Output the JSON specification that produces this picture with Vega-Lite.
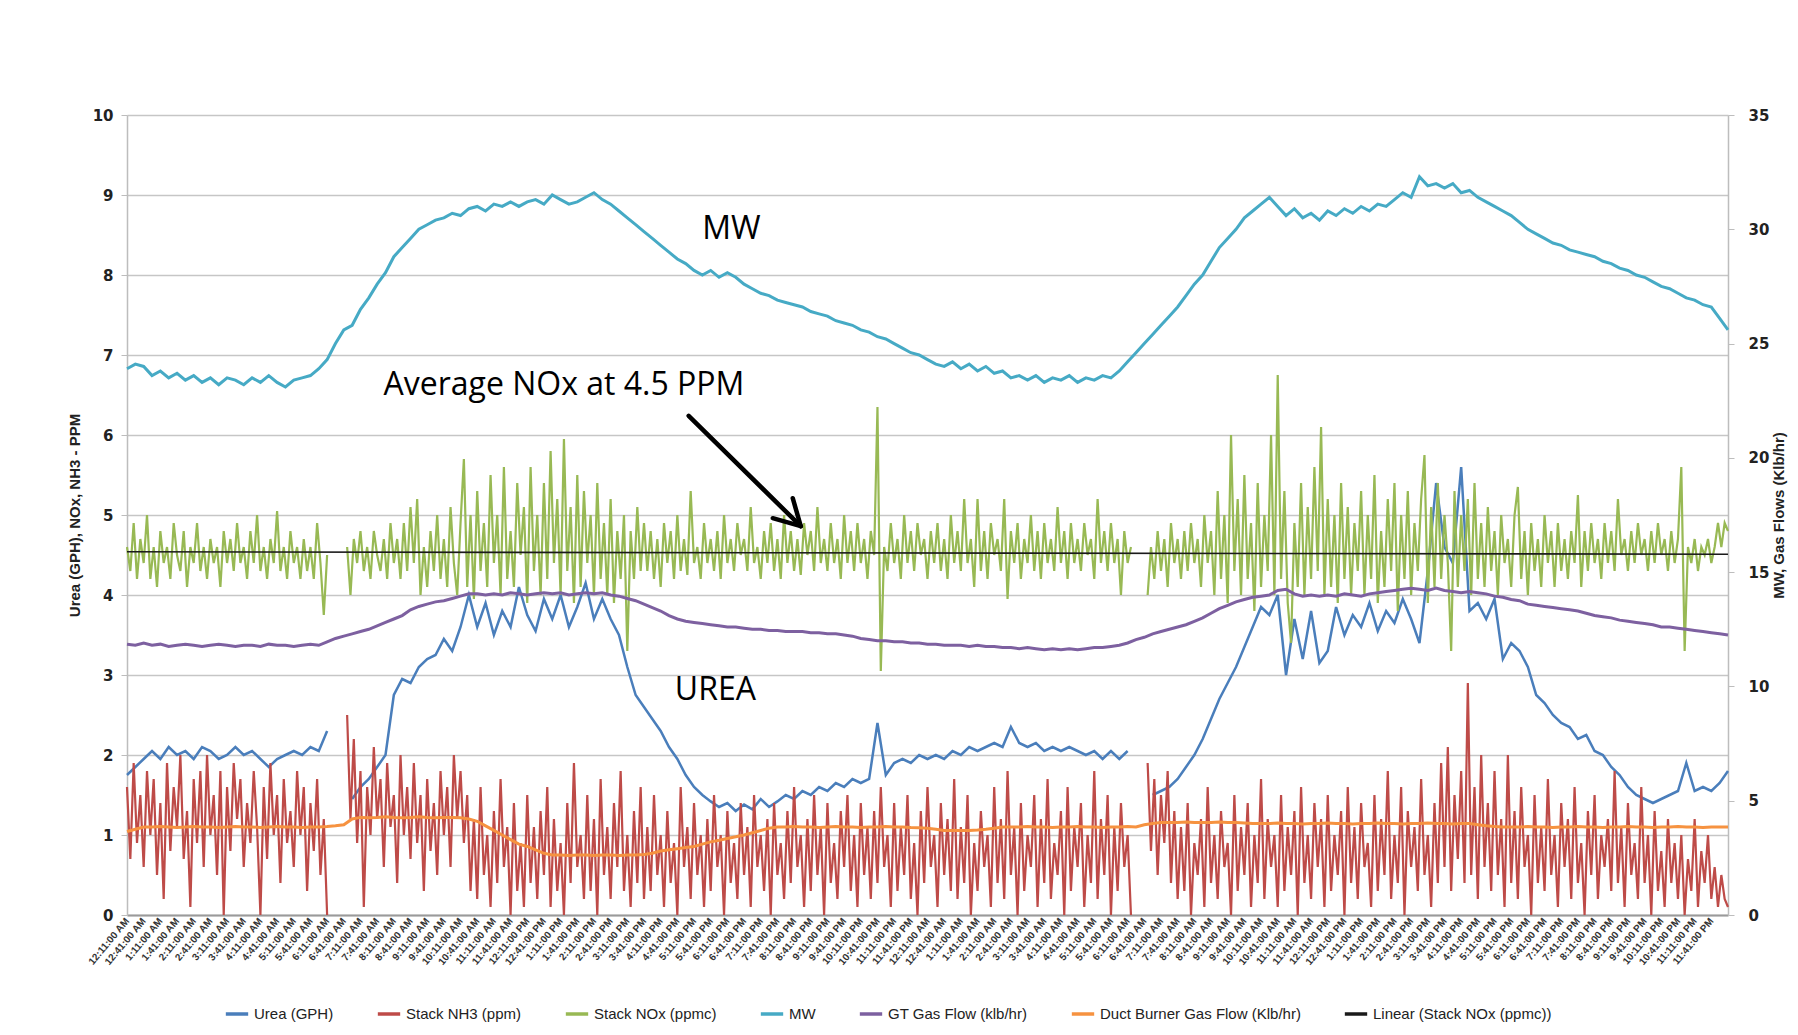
{
"$schema": "https://vega.github.io/schema/vega-lite/v6.json",
"width": 1601,
"height": 800,
"autosize": {"type": "none"},
"padding": {"left": 127, "top": 115, "right": 70, "bottom": 120},
"background": "white",
"config": {
  "view": {"stroke": null},
  "font": "Liberation Sans",
  "axisLeft": {"grid": true, "gridColor": "#c6c6c6", "gridWidth": 1.6, "domainColor": "#bdbdbd", "domainWidth": 1.5, "tickColor": "#bdbdbd", "tickSize": 6, "labelFont": "DejaVu Sans", "labelFontSize": 15, "labelFontWeight": "bold", "labelColor": "#222", "labelPadding": 8, "titleFont": "Liberation Sans", "titleFontSize": 15, "titleFontWeight": "bold", "titleColor": "#222", "titlePadding": 10},
  "axisRight": {"grid": false, "domainColor": "#bdbdbd", "domainWidth": 1.5, "tickColor": "#bdbdbd", "tickSize": 6, "labelFont": "DejaVu Sans", "labelFontSize": 15, "labelFontWeight": "bold", "labelColor": "#222", "labelPadding": 14, "titleFont": "Liberation Sans", "titleFontSize": 15, "titleFontWeight": "bold", "titleColor": "#222", "titlePadding": 18, "titleAngle": 270},
  "legend": {"orient": "none", "legendX": 97, "legendY": 886, "direction": "horizontal", "symbolType": "stroke", "symbolStrokeWidth": 3.5, "symbolSize": 500, "labelFont": "Liberation Sans", "labelFontSize": 15, "labelColor": "#222", "columnPadding": 36, "labelLimit": 400}
},
"datasets": {
"s": [
{"x":0,"u":1.75,"m":23.9,"g":11.85,"d":3.65},
{"x":0.25,"u":1.85,"m":24.1,"g":11.8,"d":3.75},
{"x":0.5,"u":1.95,"m":24.0,"g":11.9,"d":3.85},
{"x":0.75,"u":2.05,"m":23.6,"g":11.8,"d":3.85},
{"x":1,"u":1.95,"m":23.8,"g":11.85,"d":3.87},
{"x":1.25,"u":2.1,"m":23.5,"g":11.75,"d":3.85},
{"x":1.5,"u":2.0,"m":23.7,"g":11.8,"d":3.83},
{"x":1.75,"u":2.05,"m":23.4,"g":11.85,"d":3.85},
{"x":2,"u":1.95,"m":23.6,"g":11.8,"d":3.87},
{"x":2.25,"u":2.1,"m":23.3,"g":11.75,"d":3.85},
{"x":2.5,"u":2.05,"m":23.5,"g":11.8,"d":3.85},
{"x":2.75,"u":1.95,"m":23.2,"g":11.85,"d":3.83},
{"x":3,"u":2.0,"m":23.5,"g":11.8,"d":3.85},
{"x":3.25,"u":2.1,"m":23.4,"g":11.75,"d":3.87},
{"x":3.5,"u":2.0,"m":23.2,"g":11.8,"d":3.85},
{"x":3.75,"u":2.05,"m":23.5,"g":11.8,"d":3.85},
{"x":4,"u":1.95,"m":23.3,"g":11.75,"d":3.83},
{"x":4.25,"u":1.85,"m":23.6,"g":11.85,"d":3.85},
{"x":4.5,"u":1.95,"m":23.3,"g":11.8,"d":3.87},
{"x":4.75,"u":2.0,"m":23.1,"g":11.8,"d":3.85},
{"x":5,"u":2.05,"m":23.4,"g":11.75,"d":3.85},
{"x":5.25,"u":2.0,"m":23.5,"g":11.8,"d":3.83},
{"x":5.5,"u":2.1,"m":23.6,"g":11.85,"d":3.85},
{"x":5.75,"u":2.05,"m":23.9,"g":11.8,"d":3.85},
{"x":6,"u":2.3,"m":24.3,"g":11.95,"d":3.87},
{"x":6.25,"u":null,"m":25.0,"g":12.1,"d":3.9},
{"x":6.5,"u":null,"m":25.6,"g":12.2,"d":3.95},
{"x":6.75,"u":1.45,"m":25.8,"g":12.3,"d":4.2},
{"x":7,"u":1.6,"m":26.5,"g":12.4,"d":4.27},
{"x":7.25,"u":1.7,"m":27.0,"g":12.5,"d":4.25},
{"x":7.5,"u":1.85,"m":27.6,"g":12.65,"d":4.27},
{"x":7.75,"u":2.0,"m":28.1,"g":12.8,"d":4.3},
{"x":8,"u":2.75,"m":28.8,"g":12.95,"d":4.27},
{"x":8.25,"u":2.95,"m":29.2,"g":13.1,"d":4.25},
{"x":8.5,"u":2.9,"m":29.6,"g":13.35,"d":4.27},
{"x":8.75,"u":3.1,"m":30.0,"g":13.5,"d":4.3},
{"x":9,"u":3.2,"m":30.2,"g":13.6,"d":4.27},
{"x":9.25,"u":3.25,"m":30.4,"g":13.7,"d":4.25},
{"x":9.5,"u":3.45,"m":30.5,"g":13.75,"d":4.27},
{"x":9.75,"u":3.3,"m":30.7,"g":13.85,"d":4.27},
{"x":10,"u":3.6,"m":30.6,"g":13.95,"d":4.25},
{"x":10.25,"u":4.0,"m":30.9,"g":14.05,"d":4.2},
{"x":10.5,"u":3.6,"m":31.0,"g":14.05,"d":4.1},
{"x":10.75,"u":3.9,"m":30.8,"g":14.0,"d":3.9},
{"x":11,"u":3.5,"m":31.1,"g":14.05,"d":3.7},
{"x":11.25,"u":3.8,"m":31.0,"g":14.0,"d":3.5},
{"x":11.5,"u":3.6,"m":31.2,"g":14.1,"d":3.3},
{"x":11.75,"u":4.1,"m":31.0,"g":14.05,"d":3.1},
{"x":12,"u":3.75,"m":31.2,"g":14.0,"d":3.0},
{"x":12.25,"u":3.55,"m":31.3,"g":14.05,"d":2.85},
{"x":12.5,"u":3.95,"m":31.1,"g":14.1,"d":2.7},
{"x":12.75,"u":3.7,"m":31.5,"g":14.05,"d":2.63},
{"x":13,"u":4.0,"m":31.3,"g":14.1,"d":2.63},
{"x":13.25,"u":3.6,"m":31.1,"g":14.0,"d":2.6},
{"x":13.5,"u":3.85,"m":31.2,"g":14.05,"d":2.63},
{"x":13.75,"u":4.15,"m":31.4,"g":14.1,"d":2.63},
{"x":14,"u":3.7,"m":31.6,"g":14.05,"d":2.6},
{"x":14.25,"u":3.95,"m":31.3,"g":14.1,"d":2.63},
{"x":14.5,"u":3.7,"m":31.1,"g":14.0,"d":2.63},
{"x":14.75,"u":3.5,"m":30.8,"g":13.95,"d":2.6},
{"x":15,"u":3.1,"m":30.5,"g":13.85,"d":2.63},
{"x":15.25,"u":2.75,"m":30.2,"g":13.75,"d":2.63},
{"x":15.5,"u":2.6,"m":29.9,"g":13.6,"d":2.65},
{"x":15.75,"u":2.45,"m":29.6,"g":13.45,"d":2.7},
{"x":16,"u":2.3,"m":29.3,"g":13.3,"d":2.8},
{"x":16.25,"u":2.1,"m":29.0,"g":13.1,"d":2.85},
{"x":16.5,"u":1.95,"m":28.7,"g":12.95,"d":2.9},
{"x":16.75,"u":1.75,"m":28.5,"g":12.85,"d":2.95},
{"x":17,"u":1.6,"m":28.2,"g":12.8,"d":3.0},
{"x":17.25,"u":1.5,"m":28.0,"g":12.75,"d":3.1},
{"x":17.5,"u":1.42,"m":28.2,"g":12.7,"d":3.2},
{"x":17.75,"u":1.35,"m":27.9,"g":12.65,"d":3.27},
{"x":18,"u":1.4,"m":28.1,"g":12.6,"d":3.35},
{"x":18.25,"u":1.3,"m":27.9,"g":12.6,"d":3.42},
{"x":18.5,"u":1.38,"m":27.6,"g":12.55,"d":3.5},
{"x":18.75,"u":1.32,"m":27.4,"g":12.5,"d":3.6},
{"x":19,"u":1.45,"m":27.2,"g":12.5,"d":3.7},
{"x":19.25,"u":1.35,"m":27.1,"g":12.45,"d":3.8},
{"x":19.5,"u":1.42,"m":26.9,"g":12.45,"d":3.85},
{"x":19.75,"u":1.5,"m":26.8,"g":12.4,"d":3.85},
{"x":20,"u":1.45,"m":26.7,"g":12.4,"d":3.87},
{"x":20.25,"u":1.55,"m":26.6,"g":12.4,"d":3.85},
{"x":20.5,"u":1.5,"m":26.4,"g":12.35,"d":3.85},
{"x":20.75,"u":1.6,"m":26.3,"g":12.35,"d":3.83},
{"x":21,"u":1.55,"m":26.2,"g":12.3,"d":3.85},
{"x":21.25,"u":1.65,"m":26.0,"g":12.3,"d":3.87},
{"x":21.5,"u":1.6,"m":25.9,"g":12.25,"d":3.85},
{"x":21.75,"u":1.7,"m":25.8,"g":12.2,"d":3.85},
{"x":22,"u":1.65,"m":25.6,"g":12.1,"d":3.83},
{"x":22.25,"u":1.7,"m":25.5,"g":12.05,"d":3.85},
{"x":22.5,"u":2.4,"m":25.3,"g":12.0,"d":3.85},
{"x":22.75,"u":1.75,"m":25.2,"g":12.0,"d":3.87},
{"x":23,"u":1.9,"m":25.0,"g":11.95,"d":3.85},
{"x":23.25,"u":1.95,"m":24.8,"g":11.95,"d":3.85},
{"x":23.5,"u":1.9,"m":24.6,"g":11.9,"d":3.83},
{"x":23.75,"u":2.0,"m":24.5,"g":11.9,"d":3.82},
{"x":24,"u":1.95,"m":24.3,"g":11.85,"d":3.8},
{"x":24.25,"u":2.0,"m":24.1,"g":11.85,"d":3.75},
{"x":24.5,"u":1.95,"m":24.0,"g":11.8,"d":3.7},
{"x":24.75,"u":2.05,"m":24.2,"g":11.8,"d":3.7},
{"x":25,"u":2.0,"m":23.9,"g":11.8,"d":3.7},
{"x":25.25,"u":2.1,"m":24.1,"g":11.75,"d":3.7},
{"x":25.5,"u":2.05,"m":23.8,"g":11.8,"d":3.72},
{"x":25.75,"u":2.1,"m":24.0,"g":11.75,"d":3.75},
{"x":26,"u":2.15,"m":23.7,"g":11.75,"d":3.8},
{"x":26.25,"u":2.1,"m":23.8,"g":11.7,"d":3.85},
{"x":26.5,"u":2.35,"m":23.5,"g":11.7,"d":3.85},
{"x":26.75,"u":2.15,"m":23.6,"g":11.65,"d":3.85},
{"x":27,"u":2.1,"m":23.4,"g":11.7,"d":3.87},
{"x":27.25,"u":2.15,"m":23.6,"g":11.65,"d":3.85},
{"x":27.5,"u":2.05,"m":23.3,"g":11.6,"d":3.85},
{"x":27.75,"u":2.1,"m":23.5,"g":11.65,"d":3.83},
{"x":28,"u":2.05,"m":23.4,"g":11.6,"d":3.85},
{"x":28.25,"u":2.1,"m":23.6,"g":11.65,"d":3.85},
{"x":28.5,"u":2.05,"m":23.3,"g":11.6,"d":3.87},
{"x":28.75,"u":2.0,"m":23.5,"g":11.65,"d":3.85},
{"x":29,"u":2.05,"m":23.4,"g":11.7,"d":3.85},
{"x":29.25,"u":1.95,"m":23.6,"g":11.7,"d":3.83},
{"x":29.5,"u":2.05,"m":23.5,"g":11.75,"d":3.85},
{"x":29.75,"u":1.95,"m":23.8,"g":11.8,"d":3.85},
{"x":30,"u":2.05,"m":24.2,"g":11.9,"d":3.87},
{"x":30.25,"u":null,"m":24.6,"g":12.05,"d":3.85},
{"x":30.5,"u":null,"m":25.0,"g":12.15,"d":3.95},
{"x":30.75,"u":1.5,"m":25.4,"g":12.3,"d":4.0},
{"x":31,"u":1.55,"m":25.8,"g":12.4,"d":4.05},
{"x":31.25,"u":1.6,"m":26.2,"g":12.5,"d":4.05},
{"x":31.5,"u":1.7,"m":26.6,"g":12.6,"d":4.05},
{"x":31.75,"u":1.85,"m":27.1,"g":12.7,"d":4.07},
{"x":32,"u":2.0,"m":27.6,"g":12.85,"d":4.05},
{"x":32.25,"u":2.2,"m":28.0,"g":13.0,"d":4.05},
{"x":32.5,"u":2.45,"m":28.6,"g":13.2,"d":4.05},
{"x":32.75,"u":2.7,"m":29.2,"g":13.4,"d":4.07},
{"x":33,"u":2.9,"m":29.6,"g":13.55,"d":4.05},
{"x":33.25,"u":3.1,"m":30.0,"g":13.7,"d":4.05},
{"x":33.5,"u":3.35,"m":30.5,"g":13.8,"d":4.03},
{"x":33.75,"u":3.6,"m":30.8,"g":13.9,"d":4.0},
{"x":34,"u":3.85,"m":31.1,"g":13.95,"d":4.0},
{"x":34.25,"u":3.75,"m":31.4,"g":14.0,"d":4.0},
{"x":34.5,"u":4.0,"m":31.0,"g":14.2,"d":4.02},
{"x":34.75,"u":3.0,"m":30.6,"g":14.25,"d":4.0},
{"x":35,"u":3.7,"m":30.9,"g":14.05,"d":4.0},
{"x":35.25,"u":3.2,"m":30.5,"g":13.95,"d":3.98},
{"x":35.5,"u":3.8,"m":30.7,"g":14.0,"d":4.0},
{"x":35.75,"u":3.15,"m":30.4,"g":13.95,"d":4.0},
{"x":36,"u":3.3,"m":30.8,"g":14.0,"d":4.02},
{"x":36.25,"u":3.85,"m":30.6,"g":13.95,"d":4.0},
{"x":36.5,"u":3.5,"m":30.9,"g":14.05,"d":4.0},
{"x":36.75,"u":3.75,"m":30.7,"g":14.0,"d":3.98},
{"x":37,"u":3.6,"m":31.0,"g":13.95,"d":4.0},
{"x":37.25,"u":3.9,"m":30.8,"g":14.05,"d":4.0},
{"x":37.5,"u":3.55,"m":31.1,"g":14.1,"d":4.02},
{"x":37.75,"u":3.8,"m":31.0,"g":14.15,"d":4.0},
{"x":38,"u":3.65,"m":31.3,"g":14.2,"d":4.0},
{"x":38.25,"u":3.95,"m":31.6,"g":14.25,"d":3.98},
{"x":38.5,"u":3.7,"m":31.4,"g":14.3,"d":4.0},
{"x":38.75,"u":3.4,"m":32.3,"g":14.25,"d":4.0},
{"x":39,"u":4.3,"m":31.9,"g":14.2,"d":4.02},
{"x":39.25,"u":5.4,"m":32.0,"g":14.3,"d":4.0},
{"x":39.5,"u":4.6,"m":31.8,"g":14.2,"d":4.0},
{"x":39.75,"u":4.4,"m":32.0,"g":14.15,"d":3.98},
{"x":40,"u":5.6,"m":31.6,"g":14.1,"d":4.0},
{"x":40.25,"u":3.8,"m":31.7,"g":14.15,"d":4.0},
{"x":40.5,"u":3.9,"m":31.4,"g":14.1,"d":3.95},
{"x":40.75,"u":3.7,"m":31.2,"g":14.05,"d":3.9},
{"x":41,"u":3.95,"m":31.0,"g":13.95,"d":3.87},
{"x":41.25,"u":3.2,"m":30.8,"g":13.9,"d":3.85},
{"x":41.5,"u":3.4,"m":30.6,"g":13.8,"d":3.85},
{"x":41.75,"u":3.3,"m":30.3,"g":13.75,"d":3.85},
{"x":42,"u":3.1,"m":30.0,"g":13.6,"d":3.87},
{"x":42.25,"u":2.75,"m":29.8,"g":13.55,"d":3.85},
{"x":42.5,"u":2.65,"m":29.6,"g":13.5,"d":3.85},
{"x":42.75,"u":2.5,"m":29.4,"g":13.45,"d":3.83},
{"x":43,"u":2.4,"m":29.3,"g":13.4,"d":3.85},
{"x":43.25,"u":2.35,"m":29.1,"g":13.35,"d":3.85},
{"x":43.5,"u":2.2,"m":29.0,"g":13.3,"d":3.87},
{"x":43.75,"u":2.25,"m":28.9,"g":13.2,"d":3.85},
{"x":44,"u":2.05,"m":28.8,"g":13.1,"d":3.85},
{"x":44.25,"u":2.0,"m":28.6,"g":13.05,"d":3.83},
{"x":44.5,"u":1.85,"m":28.5,"g":13.0,"d":3.85},
{"x":44.75,"u":1.75,"m":28.3,"g":12.9,"d":3.85},
{"x":45,"u":1.6,"m":28.2,"g":12.85,"d":3.87},
{"x":45.25,"u":1.5,"m":28.0,"g":12.8,"d":3.85},
{"x":45.5,"u":1.45,"m":27.9,"g":12.75,"d":3.85},
{"x":45.75,"u":1.4,"m":27.7,"g":12.7,"d":3.83},
{"x":46,"u":1.45,"m":27.5,"g":12.6,"d":3.85},
{"x":46.25,"u":1.5,"m":27.4,"g":12.6,"d":3.85},
{"x":46.5,"u":1.55,"m":27.2,"g":12.55,"d":3.87},
{"x":46.75,"u":1.9,"m":27.0,"g":12.5,"d":3.85},
{"x":47,"u":1.55,"m":26.9,"g":12.45,"d":3.85},
{"x":47.25,"u":1.6,"m":26.7,"g":12.4,"d":3.83},
{"x":47.5,"u":1.55,"m":26.6,"g":12.35,"d":3.85},
{"x":47.75,"u":1.65,"m":26.1,"g":12.3,"d":3.85},
{"x":48,"u":1.8,"m":25.6,"g":12.25,"d":3.85}
],
"f": [
{"x":0,"n":1.6,"o":4.6},{"x":0.1,"n":0.7,"o":4.3},{"x":0.2,"n":1.9,"o":4.9},{"x":0.3,"n":0.9,"o":4.2},{"x":0.4,"n":1.5,"o":4.7},
{"x":0.5,"n":0.6,"o":4.4},{"x":0.6,"n":1.8,"o":5.0},{"x":0.7,"n":1.0,"o":4.2},{"x":0.8,"n":1.7,"o":4.6},{"x":0.9,"n":0.5,"o":4.1},
{"x":1.0,"n":1.4,"o":4.8},{"x":1.1,"n":0.2,"o":4.4},{"x":1.2,"n":1.9,"o":4.6},{"x":1.3,"n":0.8,"o":4.2},{"x":1.4,"n":1.6,"o":4.9},
{"x":1.5,"n":1.1,"o":4.5},{"x":1.6,"n":2.0,"o":4.3},{"x":1.7,"n":0.7,"o":4.8},{"x":1.8,"n":1.3,"o":4.1},{"x":1.9,"n":0.1,"o":4.6},
{"x":2.0,"n":1.7,"o":4.4},{"x":2.1,"n":0.9,"o":4.9},{"x":2.2,"n":1.8,"o":4.3},{"x":2.3,"n":0.6,"o":4.6},{"x":2.4,"n":2.0,"o":4.2},
{"x":2.5,"n":1.0,"o":4.7},{"x":2.6,"n":1.5,"o":4.4},{"x":2.7,"n":0.5,"o":4.6},{"x":2.8,"n":1.8,"o":4.1},{"x":2.9,"n":0.0,"o":4.8},
{"x":3.0,"n":1.6,"o":4.4},{"x":3.1,"n":0.8,"o":4.7},{"x":3.2,"n":1.9,"o":4.3},{"x":3.3,"n":1.2,"o":4.9},{"x":3.4,"n":1.7,"o":4.4},
{"x":3.5,"n":0.6,"o":4.6},{"x":3.6,"n":1.4,"o":4.2},{"x":3.7,"n":0.9,"o":4.8},{"x":3.8,"n":1.8,"o":4.4},{"x":3.9,"n":1.1,"o":5.0},
{"x":4.0,"n":0.0,"o":4.3},{"x":4.1,"n":1.6,"o":4.6},{"x":4.2,"n":0.7,"o":4.2},{"x":4.3,"n":1.9,"o":4.7},{"x":4.4,"n":1.0,"o":4.4},
{"x":4.5,"n":1.5,"o":5.05},{"x":4.6,"n":0.4,"o":4.3},{"x":4.7,"n":1.7,"o":4.6},{"x":4.8,"n":0.9,"o":4.2},{"x":4.9,"n":1.3,"o":4.8},
{"x":5.0,"n":0.6,"o":4.4},{"x":5.1,"n":1.8,"o":4.6},{"x":5.2,"n":1.0,"o":4.2},{"x":5.3,"n":1.6,"o":4.7},{"x":5.4,"n":0.3,"o":4.3},
{"x":5.5,"n":1.4,"o":4.6},{"x":5.6,"n":0.8,"o":4.2},{"x":5.7,"n":1.7,"o":4.9},{"x":5.8,"n":0.5,"o":4.4},{"x":5.9,"n":1.2,"o":3.75},
{"x":6.0,"n":0.0,"o":4.5},{"x":6.1,"n":null,"o":null},{"x":6.2,"n":null,"o":null},{"x":6.3,"n":null,"o":null},{"x":6.4,"n":null,"o":null},
{"x":6.5,"n":null,"o":null},{"x":6.6,"n":2.5,"o":4.6},{"x":6.7,"n":1.2,"o":4.0},{"x":6.8,"n":2.2,"o":4.7},{"x":6.9,"n":0.9,"o":4.4},
{"x":7.0,"n":1.8,"o":4.8},{"x":7.1,"n":0.1,"o":4.3},{"x":7.2,"n":1.6,"o":4.6},{"x":7.3,"n":1.0,"o":4.2},{"x":7.4,"n":2.1,"o":4.8},
{"x":7.5,"n":1.2,"o":4.5},{"x":7.6,"n":1.7,"o":4.3},{"x":7.7,"n":0.6,"o":4.7},{"x":7.8,"n":1.9,"o":4.2},{"x":7.9,"n":1.1,"o":4.9},
{"x":8.0,"n":1.5,"o":4.4},{"x":8.1,"n":0.4,"o":4.7},{"x":8.2,"n":2.0,"o":4.2},{"x":8.3,"n":1.0,"o":4.9},{"x":8.4,"n":1.6,"o":4.3},
{"x":8.5,"n":0.7,"o":5.1},{"x":8.6,"n":1.9,"o":4.4},{"x":8.7,"n":0.9,"o":5.2},{"x":8.8,"n":1.5,"o":4.0},{"x":8.9,"n":0.3,"o":4.6},
{"x":9.0,"n":1.7,"o":4.1},{"x":9.1,"n":0.8,"o":4.8},{"x":9.2,"n":1.4,"o":4.3},{"x":9.3,"n":0.5,"o":5.0},{"x":9.4,"n":1.8,"o":4.2},
{"x":9.5,"n":1.0,"o":4.7},{"x":9.6,"n":1.6,"o":4.1},{"x":9.7,"n":0.6,"o":5.1},{"x":9.8,"n":2.0,"o":4.4},{"x":9.9,"n":1.2,"o":4.0},
{"x":10.0,"n":1.8,"o":4.9},{"x":10.1,"n":0.9,"o":5.7},{"x":10.2,"n":1.5,"o":4.1},{"x":10.3,"n":0.3,"o":5.0},{"x":10.4,"n":1.2,"o":3.95},
{"x":10.5,"n":0.2,"o":5.3},{"x":10.6,"n":1.6,"o":4.3},{"x":10.7,"n":0.5,"o":4.9},{"x":10.8,"n":1.0,"o":4.1},{"x":10.9,"n":0.1,"o":5.5},
{"x":11.0,"n":1.3,"o":4.4},{"x":11.1,"n":0.4,"o":5.0},{"x":11.2,"n":1.7,"o":4.0},{"x":11.3,"n":0.6,"o":5.6},{"x":11.4,"n":1.1,"o":4.2},
{"x":11.5,"n":0.0,"o":4.8},{"x":11.6,"n":1.4,"o":4.1},{"x":11.7,"n":0.3,"o":5.4},{"x":11.8,"n":0.9,"o":4.5},{"x":11.9,"n":0.1,"o":5.1},
{"x":12.0,"n":1.5,"o":3.9},{"x":12.1,"n":0.4,"o":5.6},{"x":12.2,"n":1.1,"o":4.3},{"x":12.3,"n":0.2,"o":5.0},{"x":12.4,"n":1.3,"o":4.0},
{"x":12.5,"n":0.5,"o":5.4},{"x":12.6,"n":1.6,"o":4.2},{"x":12.7,"n":0.1,"o":5.8},{"x":12.8,"n":1.2,"o":4.4},{"x":12.9,"n":0.3,"o":5.2},
{"x":13.0,"n":0.9,"o":4.0},{"x":13.1,"n":0.0,"o":5.95},{"x":13.2,"n":1.4,"o":4.3},{"x":13.3,"n":0.4,"o":5.1},{"x":13.4,"n":1.9,"o":3.9},
{"x":13.5,"n":0.6,"o":5.5},{"x":13.6,"n":1.0,"o":4.1},{"x":13.7,"n":0.2,"o":5.3},{"x":13.8,"n":1.5,"o":4.4},{"x":13.9,"n":0.3,"o":5.0},
{"x":14.0,"n":1.2,"o":4.0},{"x":14.1,"n":0.0,"o":5.4},{"x":14.2,"n":1.7,"o":4.2},{"x":14.3,"n":0.5,"o":4.9},{"x":14.4,"n":1.1,"o":4.0},
{"x":14.5,"n":0.2,"o":5.2},{"x":14.6,"n":1.4,"o":3.9},{"x":14.7,"n":0.6,"o":4.8},{"x":14.8,"n":1.8,"o":4.2},{"x":14.9,"n":0.3,"o":5.0},
{"x":15.0,"n":1.0,"o":3.3},{"x":15.1,"n":0.1,"o":4.8},{"x":15.2,"n":1.3,"o":4.2},{"x":15.3,"n":0.4,"o":5.1},{"x":15.4,"n":1.6,"o":4.3},
{"x":15.5,"n":0.2,"o":4.9},{"x":15.6,"n":1.1,"o":4.3},{"x":15.7,"n":0.3,"o":4.8},{"x":15.8,"n":1.5,"o":4.2},{"x":15.9,"n":0.5,"o":4.7},
{"x":16.0,"n":1.0,"o":4.1},{"x":16.1,"n":0.1,"o":4.9},{"x":16.2,"n":1.3,"o":4.4},{"x":16.3,"n":0.4,"o":4.8},{"x":16.4,"n":0.9,"o":4.2},
{"x":16.5,"n":0.0,"o":5.0},{"x":16.6,"n":1.6,"o":4.3},{"x":16.7,"n":0.6,"o":4.7},{"x":16.8,"n":1.1,"o":4.25},{"x":16.9,"n":0.2,"o":5.3},
{"x":17.0,"n":1.4,"o":4.4},{"x":17.1,"n":0.5,"o":4.6},{"x":17.2,"n":1.0,"o":4.2},{"x":17.3,"n":0.1,"o":4.9},{"x":17.4,"n":1.2,"o":4.4},
{"x":17.5,"n":0.3,"o":4.7},{"x":17.6,"n":1.5,"o":4.3},{"x":17.7,"n":0.6,"o":4.8},{"x":17.8,"n":1.0,"o":4.2},{"x":17.9,"n":0.0,"o":5.0},
{"x":18.0,"n":1.3,"o":4.4},{"x":18.1,"n":0.4,"o":4.7},{"x":18.2,"n":0.9,"o":4.3},{"x":18.3,"n":0.2,"o":4.9},{"x":18.4,"n":1.4,"o":4.5},
{"x":18.5,"n":0.5,"o":4.7},{"x":18.6,"n":1.1,"o":4.3},{"x":18.7,"n":0.1,"o":5.1},{"x":18.8,"n":1.5,"o":4.4},{"x":18.9,"n":0.6,"o":4.6},
{"x":19.0,"n":1.0,"o":4.2},{"x":19.1,"n":0.3,"o":4.8},{"x":19.2,"n":1.2,"o":4.4},{"x":19.3,"n":0.0,"o":4.9},{"x":19.4,"n":1.4,"o":4.3},
{"x":19.5,"n":0.5,"o":4.7},{"x":19.6,"n":0.9,"o":4.2},{"x":19.7,"n":0.2,"o":5.0},{"x":19.8,"n":1.3,"o":4.4},{"x":19.9,"n":0.4,"o":4.8},
{"x":20.0,"n":1.6,"o":4.3},{"x":20.1,"n":0.6,"o":4.7},{"x":20.2,"n":1.0,"o":4.25},{"x":20.3,"n":0.1,"o":4.9},{"x":20.4,"n":1.2,"o":4.5},
{"x":20.5,"n":0.3,"o":4.8},{"x":20.6,"n":1.5,"o":4.3},{"x":20.7,"n":0.5,"o":5.1},{"x":20.8,"n":1.1,"o":4.4},{"x":20.9,"n":0.0,"o":4.7},
{"x":21.0,"n":1.4,"o":4.3},{"x":21.1,"n":0.4,"o":4.9},{"x":21.2,"n":0.9,"o":4.4},{"x":21.3,"n":0.2,"o":4.7},{"x":21.4,"n":1.3,"o":4.2},
{"x":21.5,"n":0.6,"o":5.0},{"x":21.6,"n":1.5,"o":4.4},{"x":21.7,"n":0.3,"o":4.8},{"x":21.8,"n":1.0,"o":4.3},{"x":21.9,"n":0.1,"o":4.9},
{"x":22.0,"n":1.4,"o":4.4},{"x":22.1,"n":0.5,"o":4.7},{"x":22.2,"n":1.1,"o":4.2},{"x":22.3,"n":0.2,"o":4.8},{"x":22.4,"n":1.3,"o":4.5},
{"x":22.5,"n":0.4,"o":6.35},{"x":22.6,"n":1.6,"o":3.05},{"x":22.7,"n":0.6,"o":4.6},{"x":22.8,"n":1.0,"o":4.3},{"x":22.9,"n":0.1,"o":4.9},
{"x":23.0,"n":1.4,"o":4.4},{"x":23.1,"n":0.3,"o":4.7},{"x":23.2,"n":1.1,"o":4.2},{"x":23.3,"n":0.5,"o":5.0},{"x":23.4,"n":1.5,"o":4.4},
{"x":23.5,"n":0.2,"o":4.8},{"x":23.6,"n":0.9,"o":4.3},{"x":23.7,"n":0.0,"o":4.9},{"x":23.8,"n":1.3,"o":4.5},{"x":23.9,"n":0.4,"o":4.7},
{"x":24.0,"n":1.6,"o":4.2},{"x":24.1,"n":0.6,"o":4.8},{"x":24.2,"n":1.0,"o":4.4},{"x":24.3,"n":0.1,"o":4.9},{"x":24.4,"n":1.4,"o":4.3},
{"x":24.5,"n":0.5,"o":4.7},{"x":24.6,"n":1.2,"o":4.2},{"x":24.7,"n":0.3,"o":5.0},{"x":24.8,"n":1.7,"o":4.4},{"x":24.9,"n":0.2,"o":4.8},
{"x":25.0,"n":1.1,"o":4.3},{"x":25.1,"n":0.4,"o":5.2},{"x":25.2,"n":1.5,"o":4.4},{"x":25.3,"n":0.0,"o":4.7},{"x":25.4,"n":0.9,"o":4.1},
{"x":25.5,"n":0.3,"o":5.2},{"x":25.6,"n":1.3,"o":4.3},{"x":25.7,"n":0.6,"o":4.8},{"x":25.8,"n":1.0,"o":4.2},{"x":25.9,"n":0.1,"o":4.9},
{"x":26.0,"n":1.6,"o":4.5},{"x":26.1,"n":0.4,"o":4.7},{"x":26.2,"n":1.2,"o":4.3},{"x":26.3,"n":0.2,"o":5.2},{"x":26.4,"n":1.8,"o":3.95},
{"x":26.5,"n":0.5,"o":4.8},{"x":26.6,"n":1.1,"o":4.4},{"x":26.7,"n":0.0,"o":4.9},{"x":26.8,"n":1.4,"o":4.2},{"x":26.9,"n":0.3,"o":4.7},
{"x":27.0,"n":1.0,"o":4.4},{"x":27.1,"n":0.6,"o":5.0},{"x":27.2,"n":1.5,"o":4.3},{"x":27.3,"n":0.1,"o":4.8},{"x":27.4,"n":1.2,"o":4.2},
{"x":27.5,"n":0.4,"o":4.9},{"x":27.6,"n":1.7,"o":4.4},{"x":27.7,"n":0.2,"o":4.7},{"x":27.8,"n":0.9,"o":4.3},{"x":27.9,"n":0.5,"o":5.1},
{"x":28.0,"n":1.3,"o":4.4},{"x":28.1,"n":0.0,"o":4.8},{"x":28.2,"n":1.6,"o":4.2},{"x":28.3,"n":0.3,"o":4.9},{"x":28.4,"n":1.1,"o":4.4},
{"x":28.5,"n":0.6,"o":4.7},{"x":28.6,"n":1.4,"o":4.3},{"x":28.7,"n":0.1,"o":4.9},{"x":28.8,"n":1.0,"o":4.5},{"x":28.9,"n":0.4,"o":4.7},
{"x":29.0,"n":1.8,"o":4.2},{"x":29.1,"n":0.2,"o":5.2},{"x":29.2,"n":1.2,"o":4.4},{"x":29.3,"n":0.5,"o":4.8},{"x":29.4,"n":1.5,"o":4.3},
{"x":29.5,"n":0.0,"o":4.9},{"x":29.6,"n":1.1,"o":4.4},{"x":29.7,"n":0.3,"o":4.7},{"x":29.8,"n":1.4,"o":4.0},{"x":29.9,"n":0.6,"o":4.8},
{"x":30.0,"n":1.0,"o":4.4},{"x":30.1,"n":0.0,"o":4.6},{"x":30.2,"n":null,"o":null},{"x":30.3,"n":null,"o":null},{"x":30.4,"n":null,"o":null},
{"x":30.5,"n":null,"o":null},{"x":30.6,"n":1.9,"o":4.0},{"x":30.7,"n":0.8,"o":4.6},{"x":30.8,"n":1.7,"o":4.2},{"x":30.9,"n":0.5,"o":4.8},
{"x":31.0,"n":1.5,"o":4.3},{"x":31.1,"n":0.9,"o":4.7},{"x":31.2,"n":1.8,"o":4.1},{"x":31.3,"n":0.4,"o":4.9},{"x":31.4,"n":1.3,"o":4.4},
{"x":31.5,"n":0.2,"o":4.7},{"x":31.6,"n":1.1,"o":4.2},{"x":31.7,"n":0.3,"o":4.8},{"x":31.8,"n":1.4,"o":4.3},{"x":31.9,"n":0.0,"o":4.9},
{"x":32.0,"n":0.9,"o":4.4},{"x":32.1,"n":0.5,"o":4.7},{"x":32.2,"n":1.2,"o":4.1},{"x":32.3,"n":0.1,"o":5.0},{"x":32.4,"n":1.6,"o":4.4},
{"x":32.5,"n":0.4,"o":4.8},{"x":32.6,"n":1.0,"o":4.0},{"x":32.7,"n":0.2,"o":5.3},{"x":32.8,"n":1.3,"o":4.2},{"x":32.9,"n":0.6,"o":5.0},
{"x":33.0,"n":0.9,"o":3.9},{"x":33.1,"n":0.0,"o":6.0},{"x":33.2,"n":1.5,"o":4.3},{"x":33.3,"n":0.3,"o":5.2},{"x":33.4,"n":1.1,"o":4.0},
{"x":33.5,"n":0.5,"o":5.5},{"x":33.6,"n":1.4,"o":4.2},{"x":33.7,"n":0.1,"o":4.9},{"x":33.8,"n":1.0,"o":3.8},{"x":33.9,"n":0.4,"o":5.4},
{"x":34.0,"n":1.7,"o":4.1},{"x":34.1,"n":0.2,"o":5.0},{"x":34.2,"n":1.2,"o":4.3},{"x":34.3,"n":0.6,"o":6.0},{"x":34.4,"n":1.0,"o":4.0},
{"x":34.5,"n":0.1,"o":6.75},{"x":34.6,"n":1.5,"o":4.2},{"x":34.7,"n":0.3,"o":5.3},{"x":34.8,"n":1.1,"o":3.9},{"x":34.9,"n":0.5,"o":3.4},
{"x":35.0,"n":1.3,"o":4.9},{"x":35.1,"n":0.0,"o":4.1},{"x":35.2,"n":1.6,"o":5.4},{"x":35.3,"n":0.4,"o":4.0},{"x":35.4,"n":1.0,"o":5.1},
{"x":35.5,"n":0.2,"o":4.2},{"x":35.6,"n":1.4,"o":5.6},{"x":35.7,"n":0.6,"o":4.3},{"x":35.8,"n":1.2,"o":6.1},{"x":35.9,"n":0.1,"o":4.0},
{"x":36.0,"n":1.5,"o":5.2},{"x":36.1,"n":0.3,"o":4.1},{"x":36.2,"n":1.0,"o":5.0},{"x":36.3,"n":0.5,"o":3.9},{"x":36.4,"n":1.3,"o":5.4},
{"x":36.5,"n":0.0,"o":4.2},{"x":36.6,"n":1.6,"o":5.1},{"x":36.7,"n":0.4,"o":4.0},{"x":36.8,"n":1.1,"o":4.9},{"x":36.9,"n":0.2,"o":4.3},
{"x":37.0,"n":1.4,"o":5.3},{"x":37.1,"n":0.6,"o":4.0},{"x":37.2,"n":0.9,"o":5.0},{"x":37.3,"n":0.1,"o":4.2},{"x":37.4,"n":1.5,"o":5.5},
{"x":37.5,"n":0.3,"o":3.9},{"x":37.6,"n":1.2,"o":4.8},{"x":37.7,"n":0.5,"o":4.1},{"x":37.8,"n":1.8,"o":5.2},{"x":37.9,"n":0.2,"o":4.3},
{"x":38.0,"n":1.0,"o":5.4},{"x":38.1,"n":0.4,"o":3.8},{"x":38.2,"n":1.6,"o":5.0},{"x":38.3,"n":0.0,"o":4.2},{"x":38.4,"n":1.3,"o":5.3},
{"x":38.5,"n":0.6,"o":4.0},{"x":38.6,"n":1.1,"o":4.9},{"x":38.7,"n":0.3,"o":4.3},{"x":38.8,"n":1.7,"o":5.2},{"x":38.9,"n":0.5,"o":5.75},
{"x":39.0,"n":1.0,"o":3.9},{"x":39.1,"n":0.1,"o":5.1},{"x":39.2,"n":1.4,"o":4.1},{"x":39.3,"n":0.4,"o":5.4},{"x":39.4,"n":1.9,"o":4.2},
{"x":39.5,"n":0.6,"o":5.0},{"x":39.6,"n":2.1,"o":4.4},{"x":39.7,"n":0.3,"o":3.3},{"x":39.8,"n":1.5,"o":5.3},{"x":39.9,"n":0.7,"o":4.1},
{"x":40.0,"n":1.8,"o":5.0},{"x":40.1,"n":0.4,"o":4.3},{"x":40.2,"n":2.9,"o":5.2},{"x":40.3,"n":0.5,"o":4.0},{"x":40.4,"n":1.6,"o":5.4},
{"x":40.5,"n":0.2,"o":4.2},{"x":40.6,"n":2.0,"o":4.9},{"x":40.7,"n":0.6,"o":4.1},{"x":40.8,"n":1.4,"o":5.1},{"x":40.9,"n":0.3,"o":4.3},
{"x":41.0,"n":1.8,"o":4.8},{"x":41.1,"n":0.5,"o":4.0},{"x":41.2,"n":1.2,"o":5.0},{"x":41.3,"n":0.1,"o":4.4},{"x":41.4,"n":2.0,"o":4.7},
{"x":41.5,"n":0.4,"o":4.1},{"x":41.6,"n":1.3,"o":5.0},{"x":41.7,"n":0.2,"o":5.35},{"x":41.8,"n":1.6,"o":4.2},{"x":41.9,"n":0.6,"o":4.8},
{"x":42.0,"n":1.0,"o":4.0},{"x":42.1,"n":0.0,"o":4.9},{"x":42.2,"n":1.5,"o":4.3},{"x":42.3,"n":0.4,"o":4.7},{"x":42.4,"n":1.1,"o":4.1},
{"x":42.5,"n":0.3,"o":5.0},{"x":42.6,"n":1.7,"o":4.4},{"x":42.7,"n":0.5,"o":4.8},{"x":42.8,"n":1.0,"o":4.1},{"x":42.9,"n":0.1,"o":4.9},
{"x":43.0,"n":1.4,"o":4.3},{"x":43.1,"n":0.6,"o":4.7},{"x":43.2,"n":1.2,"o":4.2},{"x":43.3,"n":0.2,"o":4.8},{"x":43.4,"n":1.6,"o":4.4},
{"x":43.5,"n":0.4,"o":5.25},{"x":43.6,"n":0.9,"o":4.1},{"x":43.7,"n":0.0,"o":4.8},{"x":43.8,"n":1.3,"o":4.3},{"x":43.9,"n":0.5,"o":4.9},
{"x":44.0,"n":1.5,"o":4.4},{"x":44.1,"n":0.2,"o":4.7},{"x":44.2,"n":1.0,"o":4.2},{"x":44.3,"n":0.6,"o":4.9},{"x":44.4,"n":1.2,"o":4.4},
{"x":44.5,"n":0.3,"o":4.8},{"x":44.6,"n":1.8,"o":4.3},{"x":44.7,"n":0.4,"o":5.2},{"x":44.8,"n":1.1,"o":4.5},{"x":44.9,"n":0.1,"o":4.7},
{"x":45.0,"n":1.4,"o":4.3},{"x":45.1,"n":0.5,"o":4.8},{"x":45.2,"n":0.9,"o":4.4},{"x":45.3,"n":0.2,"o":4.9},{"x":45.4,"n":1.6,"o":4.5},
{"x":45.5,"n":0.4,"o":4.7},{"x":45.6,"n":1.0,"o":4.3},{"x":45.7,"n":0.0,"o":4.8},{"x":45.8,"n":1.3,"o":4.4},{"x":45.9,"n":0.3,"o":4.9},
{"x":46.0,"n":0.8,"o":4.5},{"x":46.1,"n":0.1,"o":4.7},{"x":46.2,"n":1.2,"o":4.3},{"x":46.3,"n":0.4,"o":4.8},{"x":46.4,"n":0.9,"o":4.4},
{"x":46.5,"n":0.2,"o":4.7},{"x":46.6,"n":1.0,"o":5.6},{"x":46.7,"n":0.0,"o":3.3},{"x":46.8,"n":0.7,"o":4.6},{"x":46.9,"n":0.3,"o":4.4},
{"x":47.0,"n":1.2,"o":4.7},{"x":47.1,"n":0.1,"o":4.3},{"x":47.2,"n":0.8,"o":4.6},{"x":47.3,"n":0.4,"o":4.5},{"x":47.4,"n":1.0,"o":4.7},
{"x":47.5,"n":0.2,"o":4.4},{"x":47.6,"n":0.6,"o":4.6},{"x":47.7,"n":0.1,"o":4.9},{"x":47.8,"n":0.5,"o":4.6},{"x":47.9,"n":0.2,"o":4.9},
{"x":48.0,"n":0.1,"o":4.8}
],
"lin": [{"x":0,"v":4.54},{"x":48,"v":4.51}],
"ann": [{"x":18.12,"y":8.57,"t":"MW"},{"x":13.1,"y":6.62,"t":"Average NOx at 4.5 PPM"},{"x":17.64,"y":2.81,"t":"UREA"}],
"arr": [{"x":16.84,"y":6.24,"x2":20.2,"y2":4.86},{"x":19.96,"y":5.21,"x2":20.2,"y2":4.86},{"x":19.36,"y":4.96,"x2":20.2,"y2":4.86}]
},
"encoding": {
  "x": {"field": "x", "type": "quantitative", "title": null,
    "scale": {"domain": [0, 48], "nice": false, "zero": false},
    "axis": {"values": [0,0.5,1,1.5,2,2.5,3,3.5,4,4.5,5,5.5,6,6.5,7,7.5,8,8.5,9,9.5,10,10.5,11,11.5,12,12.5,13,13.5,14,14.5,15,15.5,16,16.5,17,17.5,18,18.5,19,19.5,20,20.5,21,21.5,22,22.5,23,23.5,24,24.5,25,25.5,26,26.5,27,27.5,28,28.5,29,29.5,30,30.5,31,31.5,32,32.5,33,33.5,34,34.5,35,35.5,36,36.5,37,37.5,38,38.5,39,39.5,40,40.5,41,41.5,42,42.5,43,43.5,44,44.5,45,45.5,46,46.5,47,47.5],
      "labelExpr": "(floor((datum.value*60+11)/60)%12==0?12:floor((datum.value*60+11)/60)%12)+':'+((datum.value*60+11)%60)+':00 '+(floor((datum.value*60+11)/60)%24<12?'AM':'PM')",
      "labelAngle": -50, "labelOverlap": false, "grid": false, "ticks": false, "labelFont": "Liberation Sans", "labelFontSize": 10, "labelFontWeight": "bold", "labelColor": "#333", "labelPadding": 4, "domainColor": "#9a9a9a", "domainWidth": 2}}
},
"layer": [
  {
    "layer": [
      {"data": {"name": "s"}, "mark": {"type": "line", "strokeWidth": 2.5, "invalid": "break-paths-show-domains"},
       "encoding": {"y": {"field": "u", "type": "quantitative", "title": "Urea (GPH), NOx, NH3 - PPM", "scale": {"domain": [0, 10], "nice": false}, "axis": {"values": [0,1,2,3,4,5,6,7,8,9,10]}},
        "color": {"datum": "Urea (GPH)", "title": null, "scale": {"domain": ["Urea (GPH)","Stack NH3 (ppm)","Stack NOx (ppmc)","MW","GT Gas Flow (klb/hr)","Duct Burner Gas Flow (Klb/hr)","Linear (Stack NOx (ppmc))"], "range": ["#4a7ebb","#be4b48","#98b954","#46aac5","#7d60a0","#f69240","#1a1a1a"]}}}},
      {"data": {"name": "f"}, "mark": {"type": "line", "strokeWidth": 2.2, "invalid": "break-paths-show-domains"},
       "encoding": {"y": {"field": "n", "type": "quantitative", "title": "Urea (GPH), NOx, NH3 - PPM", "scale": {"domain": [0, 10], "nice": false}, "axis": {"values": [0,1,2,3,4,5,6,7,8,9,10]}},
        "color": {"datum": "Stack NH3 (ppm)", "title": null, "scale": {"domain": ["Urea (GPH)","Stack NH3 (ppm)","Stack NOx (ppmc)","MW","GT Gas Flow (klb/hr)","Duct Burner Gas Flow (Klb/hr)","Linear (Stack NOx (ppmc))"], "range": ["#4a7ebb","#be4b48","#98b954","#46aac5","#7d60a0","#f69240","#1a1a1a"]}}}},
      {"data": {"name": "f"}, "mark": {"type": "line", "strokeWidth": 2.2, "invalid": "break-paths-show-domains"},
       "encoding": {"y": {"field": "o", "type": "quantitative", "title": "Urea (GPH), NOx, NH3 - PPM", "scale": {"domain": [0, 10], "nice": false}, "axis": {"values": [0,1,2,3,4,5,6,7,8,9,10]}},
        "color": {"datum": "Stack NOx (ppmc)", "title": null, "scale": {"domain": ["Urea (GPH)","Stack NH3 (ppm)","Stack NOx (ppmc)","MW","GT Gas Flow (klb/hr)","Duct Burner Gas Flow (Klb/hr)","Linear (Stack NOx (ppmc))"], "range": ["#4a7ebb","#be4b48","#98b954","#46aac5","#7d60a0","#f69240","#1a1a1a"]}}}},
      {"data": {"name": "lin"}, "mark": {"type": "line", "strokeWidth": 1.6},
       "encoding": {"y": {"field": "v", "type": "quantitative", "title": "Urea (GPH), NOx, NH3 - PPM", "scale": {"domain": [0, 10], "nice": false}, "axis": {"values": [0,1,2,3,4,5,6,7,8,9,10]}},
        "color": {"datum": "Linear (Stack NOx (ppmc))", "title": null, "scale": {"domain": ["Urea (GPH)","Stack NH3 (ppm)","Stack NOx (ppmc)","MW","GT Gas Flow (klb/hr)","Duct Burner Gas Flow (Klb/hr)","Linear (Stack NOx (ppmc))"], "range": ["#4a7ebb","#be4b48","#98b954","#46aac5","#7d60a0","#f69240","#1a1a1a"]}}}},
      {"data": {"name": "arr"}, "mark": {"type": "rule", "strokeWidth": 4.5, "strokeCap": "round", "color": "#000"},
       "encoding": {"y": {"field": "y", "type": "quantitative", "title": "Urea (GPH), NOx, NH3 - PPM", "scale": {"domain": [0, 10], "nice": false}, "axis": {"values": [0,1,2,3,4,5,6,7,8,9,10]}},
        "x2": {"field": "x2"}, "y2": {"field": "y2"}}},
      {"data": {"name": "ann"}, "mark": {"type": "text", "font": "Open Sans", "fontSize": 32, "color": "#000", "align": "center", "baseline": "middle"},
       "encoding": {"y": {"field": "y", "type": "quantitative", "title": "Urea (GPH), NOx, NH3 - PPM", "scale": {"domain": [0, 10], "nice": false}, "axis": {"values": [0,1,2,3,4,5,6,7,8,9,10]}},
        "text": {"field": "t"}}}
    ]
  },
  {
    "layer": [
      {"data": {"name": "s"}, "mark": {"type": "line", "strokeWidth": 3},
       "encoding": {"y": {"field": "m", "type": "quantitative", "title": "MW,  Gas Flows (Klb/hr)", "scale": {"domain": [0, 35], "nice": false}, "axis": {"orient": "right", "values": [0,5,10,15,20,25,30,35]}},
        "color": {"datum": "MW", "title": null, "scale": {"domain": ["Urea (GPH)","Stack NH3 (ppm)","Stack NOx (ppmc)","MW","GT Gas Flow (klb/hr)","Duct Burner Gas Flow (Klb/hr)","Linear (Stack NOx (ppmc))"], "range": ["#4a7ebb","#be4b48","#98b954","#46aac5","#7d60a0","#f69240","#1a1a1a"]}}}},
      {"data": {"name": "s"}, "mark": {"type": "line", "strokeWidth": 3},
       "encoding": {"y": {"field": "g", "type": "quantitative", "title": "MW,  Gas Flows (Klb/hr)", "scale": {"domain": [0, 35], "nice": false}, "axis": {"orient": "right", "values": [0,5,10,15,20,25,30,35]}},
        "color": {"datum": "GT Gas Flow (klb/hr)", "title": null, "scale": {"domain": ["Urea (GPH)","Stack NH3 (ppm)","Stack NOx (ppmc)","MW","GT Gas Flow (klb/hr)","Duct Burner Gas Flow (Klb/hr)","Linear (Stack NOx (ppmc))"], "range": ["#4a7ebb","#be4b48","#98b954","#46aac5","#7d60a0","#f69240","#1a1a1a"]}}}},
      {"data": {"name": "s"}, "mark": {"type": "line", "strokeWidth": 3},
       "encoding": {"y": {"field": "d", "type": "quantitative", "title": "MW,  Gas Flows (Klb/hr)", "scale": {"domain": [0, 35], "nice": false}, "axis": {"orient": "right", "values": [0,5,10,15,20,25,30,35]}},
        "color": {"datum": "Duct Burner Gas Flow (Klb/hr)", "title": null, "scale": {"domain": ["Urea (GPH)","Stack NH3 (ppm)","Stack NOx (ppmc)","MW","GT Gas Flow (klb/hr)","Duct Burner Gas Flow (Klb/hr)","Linear (Stack NOx (ppmc))"], "range": ["#4a7ebb","#be4b48","#98b954","#46aac5","#7d60a0","#f69240","#1a1a1a"]}}}}
    ]
  }
],
"resolve": {"scale": {"y": "independent"}}
}
